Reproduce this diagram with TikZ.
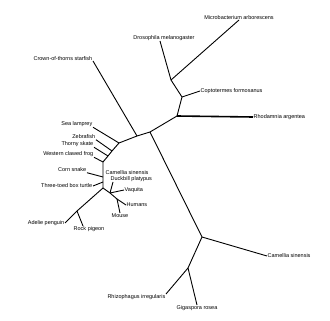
\documentclass[tikz,border=0pt]{standalone}
\usepackage{fontspec}
\setmainfont{Liberation Sans}
\usetikzlibrary{positioning}

\begin{document}
\begin{tikzpicture}[x=1pt, y=-1pt,
    taxon/.style={inner sep=0.5pt, font=\fontsize{5.5}{6}\selectfont},
    branch/.style={line width=0.9pt, black},
    thickbranch/.style={line width=1.6pt, black}
]
\useasboundingbox (0,0) rectangle (330,321);

% internal nodes
\coordinate (r1) at (137,136);
\coordinate (r2) at (150,132);
\coordinate (p1) at (177,116);
\coordinate (p2) at (182,97);
\coordinate (p3) at (171,80);
\coordinate (f1) at (202,237);
\coordinate (f2) at (188,268);
\coordinate (v1) at (119,143);
\coordinate (v2) at (112,151);
\coordinate (v3) at (108,156);
\coordinate (v4) at (103,162);
\coordinate (v5) at (103,177);
\coordinate (v6) at (103,182);
\coordinate (v7) at (103,188);
\coordinate (b1) at (77,211);
\coordinate (m1) at (110,193);
\coordinate (m2) at (117,199);

% taxa
\node[taxon, anchor=south east] (starfish) at (93,61) {Crown-of-thorns starfish};
\node[taxon, anchor=east] (lamprey) at (93,124) {Sea lamprey};
\node[taxon, anchor=east] (zebrafish) at (96,137) {Zebrafish};
\node[taxon, anchor=east] (skate) at (94,144) {Thorny skate};
\node[taxon, anchor=east] (frog) at (94,154) {Western clawed frog};
\node[taxon, anchor=east] (snake) at (87,170) {Corn snake};
\node[taxon, anchor=east] (turtle) at (93,186) {Three-toed box turtle};
\node[taxon, anchor=east] (penguin) at (65,223) {Adelie penguin};
\node[taxon, anchor=north west] (pigeon) at (73,226) {Rock pigeon};
\node[taxon, anchor=west] (tea) at (105,173) {Camellia sinensis};
\node[taxon, anchor=south west] (platypus) at (110,182) {Duckbill platypus};
\node[taxon, anchor=west] (vaquita) at (124,190) {Vaquita};
\node[taxon, anchor=west] (humans) at (126,205) {Humans};
\node[taxon, anchor=north] (mouse) at (120,213) {Mouse};
\node[taxon, anchor=south] (drosophila) at (164,41) {Drosophila melanogaster};
\node[taxon, anchor=south] (microbe) at (239,20) {Microbacterium arborescens};
\node[taxon, anchor=west] (termite) at (200,91) {Coptotermes formosanus};
\node[taxon, anchor=west] (myrtle) at (253,117) {Rhodamnia argentea};
\node[taxon, anchor=west] (camellia) at (267,256) {Camellia sinensis};
\node[taxon, anchor=north] (gigaspora) at (197,305) {Gigaspora rosea};
\node[taxon, anchor=north east] (rhizo) at (166,294) {Rhizophagus irregularis};

% backbone
\draw[branch] (r1) -- (r2);
\draw[branch] (r2) -- (p1) -- (p2) -- (p3);
\draw[branch] (r2) -- (f1) -- (f2);
\draw[branch] (r1) -- (v1) -- (v2) -- (v3) -- (v4) -- (v5) -- (v6) -- (v7);
\draw[branch] (v7) -- (m1) -- (m2);

% tips
\draw[branch] (r1) -- (starfish.south east);
\draw[branch] (v1) -- (lamprey.south east);
\draw[branch] (v2) -- (zebrafish.south east);
\draw[branch] (v3) -- (skate.south east);
\draw[branch] (v4) -- (frog.south east);
\draw[branch] (v5) -- (snake.south east);
\draw[branch] (v6) -- (turtle.east);
\draw[branch] (v7) -- (b1) -- (penguin.east);
\draw[branch] (b1) -- ([xshift=10pt]pigeon.north west);
\draw[branch] (m1) -- ([xshift=3pt]platypus.south west);
\draw[branch] (m1) -- (vaquita.west);
\draw[branch] (m2) -- (humans.west);
\draw[branch] (m2) -- (mouse.north);
\draw[branch] (p3) -- ([xshift=-4pt]drosophila.south);
\draw[branch] (p3) -- (microbe.south);
\draw[branch] (p2) -- (termite.west);
\draw[thickbranch] (p1) -- (myrtle.west);
\draw[branch] (f1) -- (camellia.west);
\draw[branch] (f2) -- (gigaspora.north);
\draw[branch] (f2) -- (rhizo.north east);
\end{tikzpicture}
\end{document}
